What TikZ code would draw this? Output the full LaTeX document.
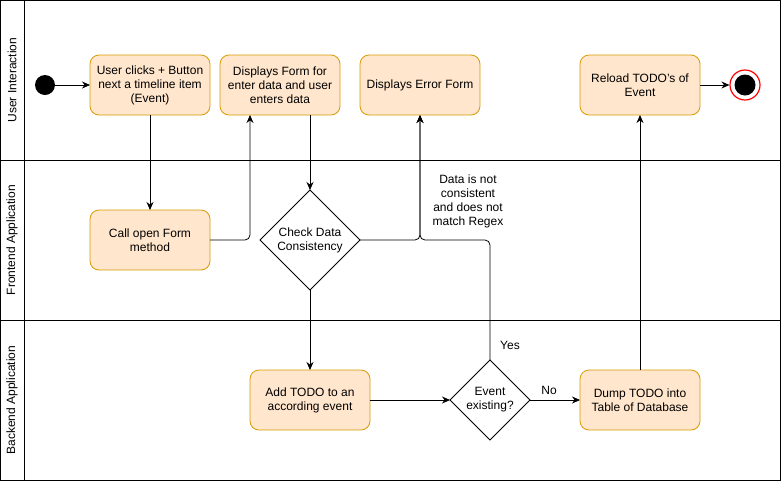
\documentclass[tikz,border=0pt]{standalone}
\usepackage{fontspec}
\setmainfont{Liberation Sans}
\usetikzlibrary{positioning,shapes.geometric,arrows.meta}
\definecolor{actfill}{HTML}{FFE6CC}
\definecolor{actline}{HTML}{D79B00}
\begin{document}
\begin{tikzpicture}[x=1pt,y=-1pt,line width=0.8pt,
    font=\fontsize{12}{14}\selectfont,
    >={Stealth[length=8pt,width=7pt]},
    act/.style={draw=actline,fill=actfill,rectangle,rounded corners=9pt,minimum width=120pt,minimum height=60pt,align=center,inner sep=2pt,outer sep=0pt},
    dec/.style={draw,diamond,aspect=1,inner sep=0pt,outer sep=0pt,align=center},
    lane/.style={rotate=90,anchor=center},
    flow/.style={->,rounded corners=5pt}]
    \useasboundingbox (0,0) rectangle (781,483);
    % swimlanes
    \draw (0.5,0.5) rectangle (780.5,480.5);
    \draw (24,0.5) -- (24,480.5);
    \draw (0.5,160) -- (780.5,160);
    \draw (0.5,320) -- (780.5,320);
    \node (ui) [lane] at (12,80) {User Interaction};
    \node (fe) [lane] at (12,240) {Frontend Application};
    \node (be) [lane] at (12,400) {Backend Application};

    % user interaction
    \node (start) [circle,fill=black,minimum size=20pt,inner sep=0pt] at (45,85) {};
    \node (click) [act] at (150,85) {User clicks + Button\\next a timeline item\\(Event)};
    \node (form) [act,right=10pt of click] {Displays Form for\\enter data and user\\enters data};
    \node (error) [act,right=20pt of form] {Displays Error Form};
    \node (reload) [act,right=100pt of error] {Reload TODO's of\\Event};
    \node (stop) [circle,draw=red,fill=white,line width=1.2pt,minimum size=30pt,inner sep=0pt] at (745,85) {};
    \node (stopdot) [circle,fill=black,minimum size=21pt,inner sep=0pt] at (stop) {};

    % frontend
    \node (open) [act,below=95pt of click] {Call open Form\\method};
    \node (check) [dec,minimum size=100pt] at (310,240) {Check Data\\Consistency};

    % backend
    \node (add) [act] at (310,400) {Add TODO to an\\according event};
    \node (exist) [dec,minimum size=80pt] at (490,400) {Event\\existing?};
    \node (dump) [act,below=255pt of reload] {Dump TODO into\\Table of Database};

    % connectors
    \draw [->] (start) -- (click);
    \draw [->] (click) -- (open);
    \draw [flow] (open.east) -| ([xshift=-30pt]form.south);
    \draw [->] ([xshift=30pt]form.south) -- (check.north);
    \draw [flow] (check.east) -| (error.south);
    \draw [->] (check.south) -- (add.north);
    \draw [->] (add.east) -- (exist.west);
    \draw [flow] (exist.north) |- (error.south |- check.east) -- (error.south);
    \draw [->] (exist.east) -- node (no) [pos=0.38,above=2pt] {No} (dump.west);
    \draw [->] (dump.north) -- (reload.south);
    \draw [->] (reload.east) -- (stop.west);

    \node (why) [align=center] at (468,201) {Data is not\\consistent\\and does not\\match Regex};
    \node (yes) at (510,345) {Yes};
\end{tikzpicture}
\end{document}
